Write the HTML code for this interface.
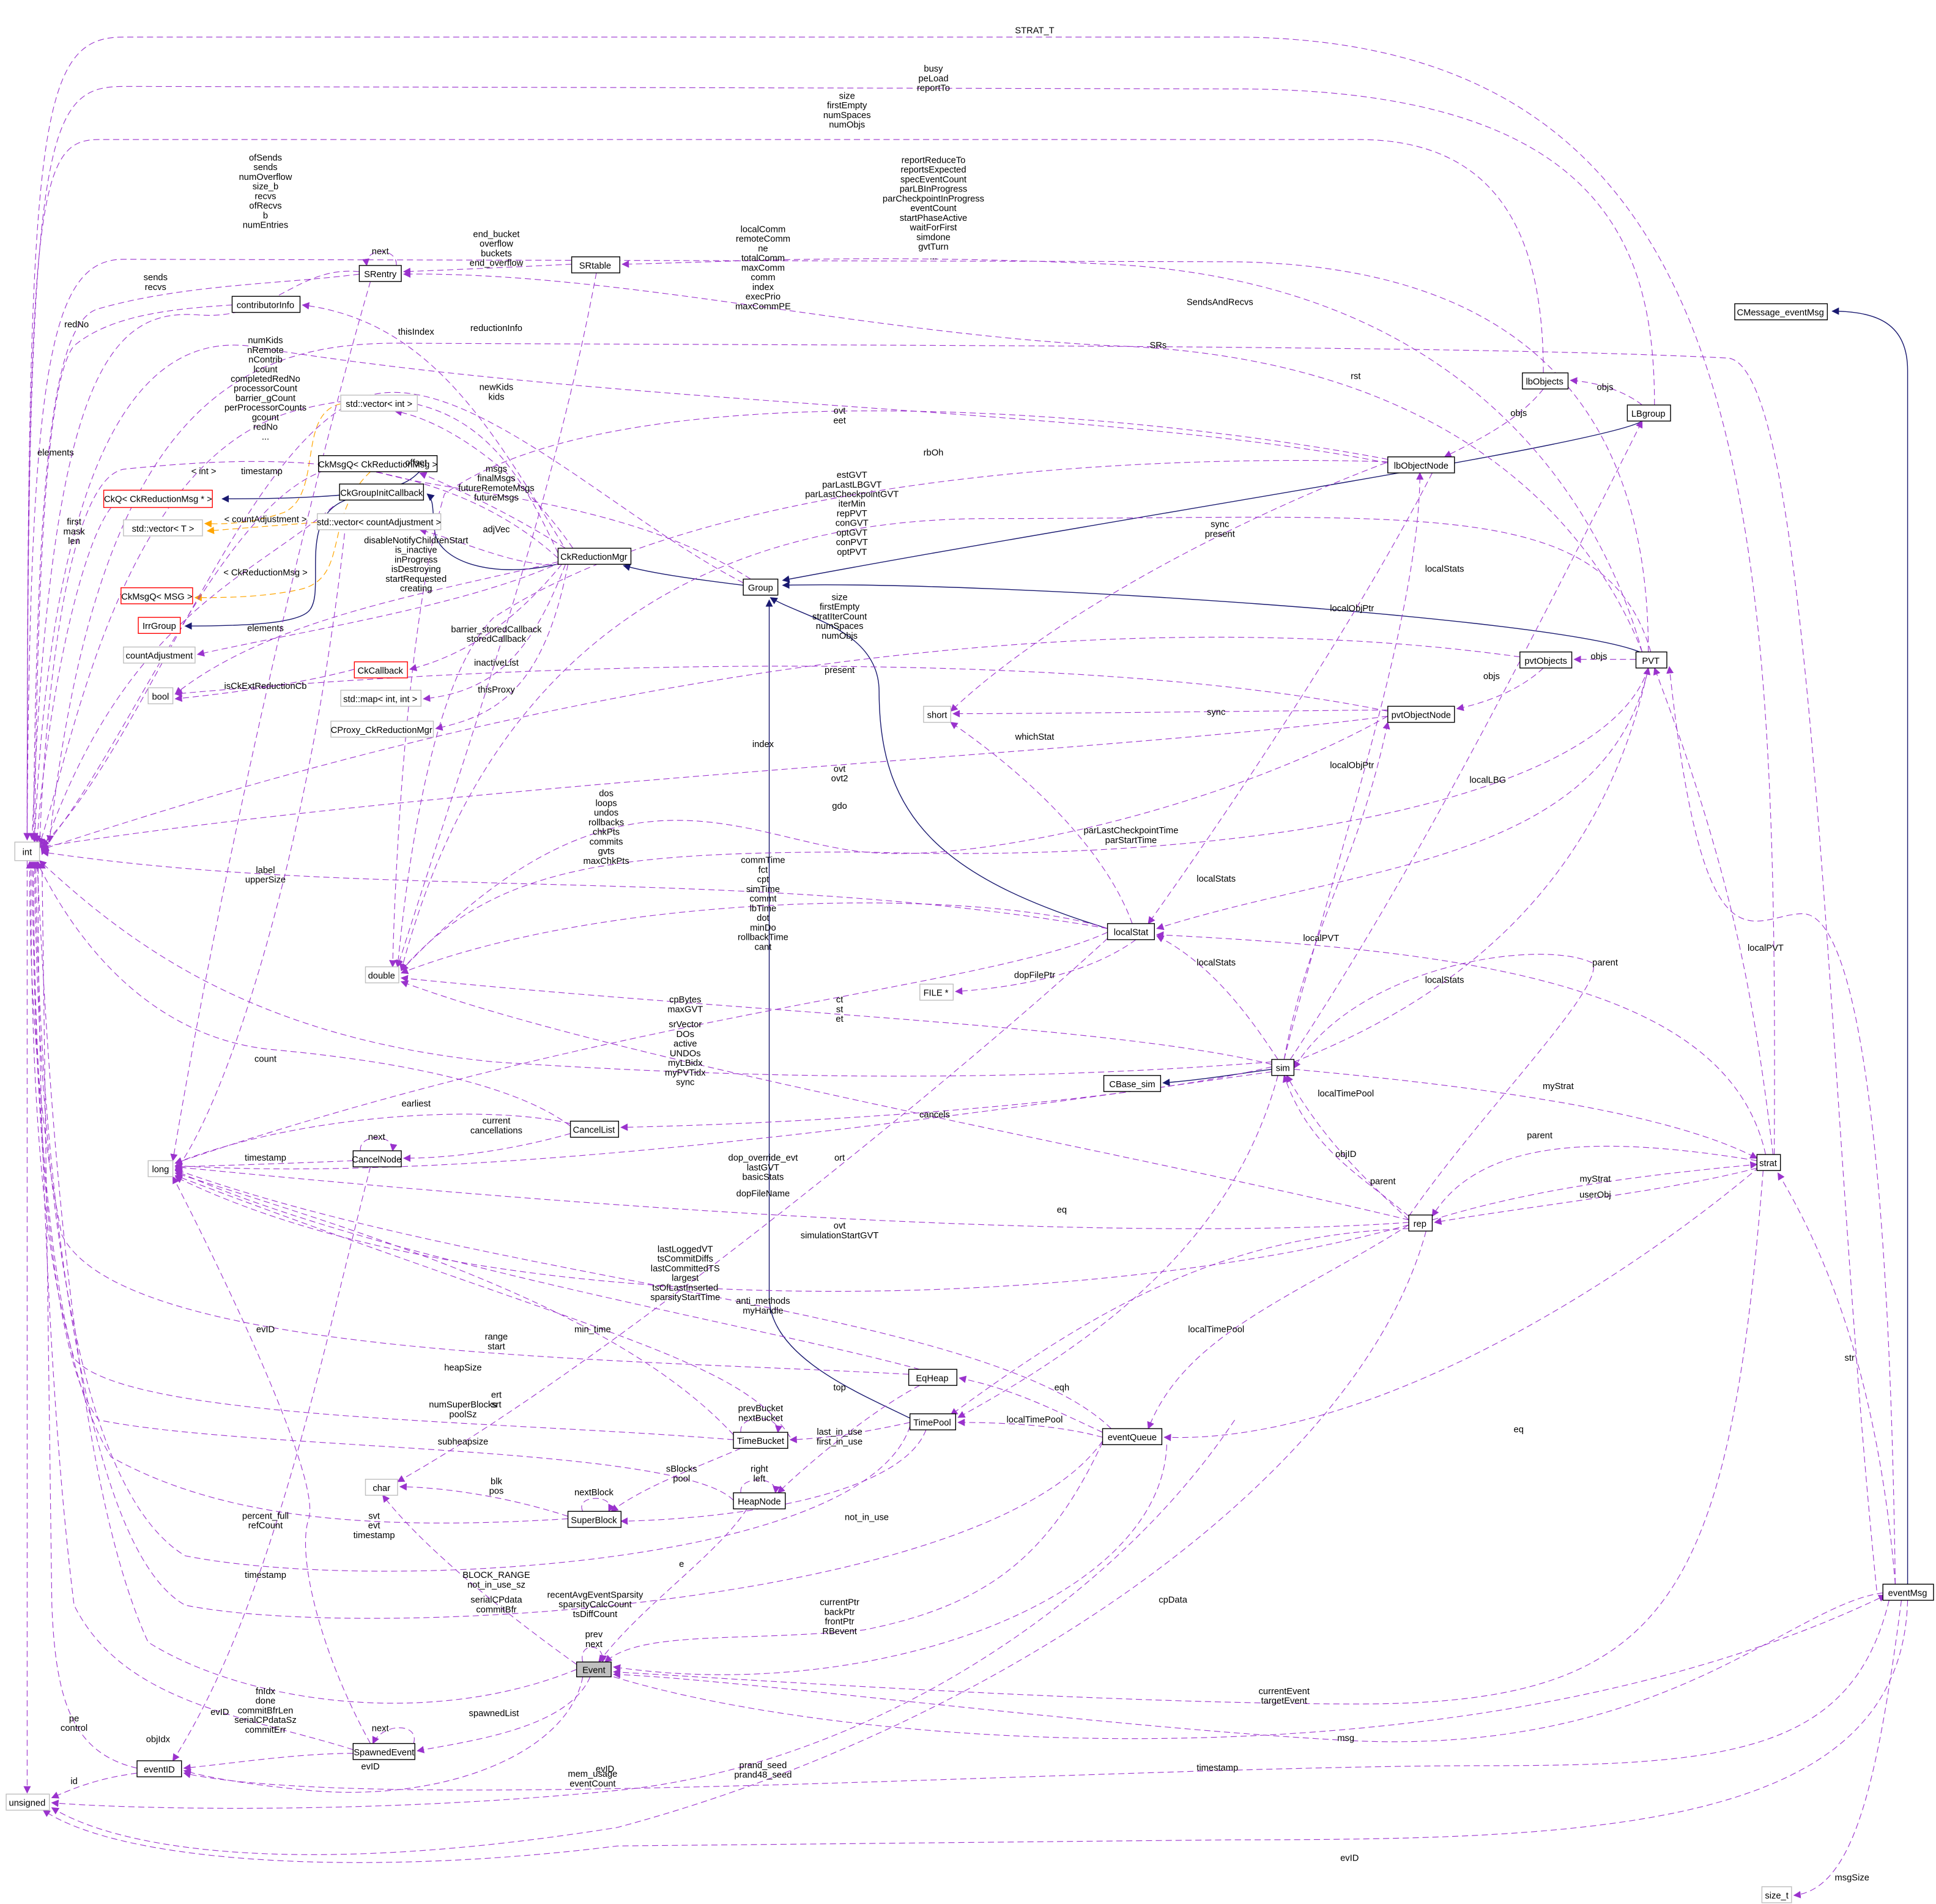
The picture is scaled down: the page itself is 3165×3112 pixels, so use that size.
<!DOCTYPE html>
<html><head><meta charset="utf-8"><style>
html,body{margin:0;padding:0;background:#fff;}
svg{display:block;}
text{font-family:"Liberation Sans",sans-serif;font-size:7.3px;fill:#000;}
.t{text-anchor:middle;}
.e{fill:none;stroke:#9a32cd;stroke-width:0.55;stroke-dasharray:5,3;marker-end:url(#mp);}
.n{fill:none;stroke:#191970;stroke-width:0.7;marker-end:url(#mn);}
.o{fill:none;stroke:#ffa500;stroke-width:0.6;stroke-dasharray:5,3;marker-end:url(#mo);}
.b{fill:#fff;stroke:#000;stroke-width:0.7;}
.g{fill:#fff;stroke:#bfbfbf;stroke-width:0.7;}
.r{fill:#fff;stroke:#ff0000;stroke-width:0.7;}
</style></head><body>
<svg width="3165" height="3112" viewBox="0 0 1568 1542" preserveAspectRatio="none" xmlns="http://www.w3.org/2000/svg">
<defs>
<marker id="mp" viewBox="0 0 10 10" refX="9" refY="5" markerWidth="6" markerHeight="6" markerUnits="userSpaceOnUse" orient="auto"><path d="M0,0 L10,5 L0,10z" fill="#9a32cd"/></marker>
<marker id="mn" viewBox="0 0 10 10" refX="9" refY="5" markerWidth="6" markerHeight="6" markerUnits="userSpaceOnUse" orient="auto"><path d="M0,0 L10,5 L0,10z" fill="#191970"/></marker>
<marker id="mo" viewBox="0 0 10 10" refX="9" refY="5" markerWidth="6" markerHeight="6" markerUnits="userSpaceOnUse" orient="auto"><path d="M0,0 L10,5 L0,10z" fill="#ffa500"/></marker>
</defs>

<!-- navy inheritance -->
<path class="n" d="M342,380 C330,390 330,404 180,404"/>
<path class="n" d="M280,405 C240,420 265,480 250,495 C240,505 200,507 150,507"/>
<path class="n" d="M455,456 C400,470 355,455 352,430 C350,415 352,405 346,400"/>
<path class="n" d="M602,474 C570,470 530,465 505,458"/>
<path class="n" d="M1330,341 C1300,360 900,420 634,470"/>
<path class="n" d="M1328,528 C1260,500 800,470 634,474"/>
<path class="n" d="M897,752 C760,710 712,660 712,560 C712,510 650,500 624,484"/>
<path class="n" d="M740,1150 C700,1130 623,1100 623,1050 L623,486"/>
<path class="n" d="M1030,866 C1000,870 970,875 942,877"/>
<path class="n" d="M1545,1283 L1545,300 C1545,262 1520,252 1484,252"/>

<!-- orange template -->
<path class="o" d="M276,327 C240,335 262,400 230,415 C210,422 190,425 166,424"/>
<path class="o" d="M257,423 L168,430"/>
<path class="o" d="M300,382 C260,420 285,470 240,478 C210,484 180,484 158,484"/>

<!-- purple edges to int -->
<path class="e" d="M1437,935 C1440,400 1420,32 1000,30 L100,30 C30,30 22,100 22,680"/>
<path class="e" d="M1340,328 C1340,200 1300,72 1000,72 L100,70 C35,70 22,110 22,680"/>
<path class="e" d="M1250,302 C1250,200 1220,113 1100,113 L80,113 C30,113 22,160 22,680"/>
<path class="e" d="M1335,528 C1335,300 1200,215 1000,212 L100,210 C40,210 24,300 22,680"/>
<path class="e" d="M291,220 C240,215 220,260 160,255 C90,250 40,300 26,680"/>
<path class="e" d="M291,222 C230,230 150,230 80,250 C40,260 30,400 27,680"/>
<path class="e" d="M188,247 C140,250 90,255 60,280 C35,310 30,500 28,680"/>
<path class="e" d="M452,448 C420,380 380,300 250,330 C100,360 60,600 32,684"/>
<path class="e" d="M452,452 C350,360 200,370 100,380 C50,390 35,600 32,687"/>
<path class="e" d="M90,411 C60,450 35,600 30,682"/>
<path class="e" d="M897,752 C600,700 300,730 34,690"/>
<path class="e" d="M602,472 C500,420 380,300 300,320 C200,350 120,600 34,685"/>
<path class="e" d="M462,912 C420,880 330,860 220,850 C120,840 60,760 30,698"/>
<path class="e" d="M736,1113 C500,1100 100,1100 50,1000 C30,900 24,800 24,698"/>
<path class="e" d="M594,1166 C400,1150 100,1150 60,1100 C30,1000 25,850 25,698"/>
<path class="e" d="M594,1215 C550,1170 200,1175 80,1150 C40,1100 28,900 26,698"/>
<path class="e" d="M460,1230 C300,1240 180,1230 90,1180 C40,1100 28,900 27,698"/>
<path class="e" d="M737,1155 C700,1270 300,1290 150,1260 C50,1200 30,900 28,698"/>
<path class="e" d="M893,1167 C800,1300 300,1330 150,1300 C60,1250 30,900 29,698"/>
<path class="e" d="M467,1352 C350,1400 200,1380 120,1330 C60,1200 40,900 30,698"/>
<path class="e" d="M286,1417 C200,1390 100,1380 60,1300 C35,1100 30,800 31,698"/>
<path class="e" d="M111,1432 C60,1420 45,1380 42,1300 L34,698"/>
<path class="e" d="M1030,860 C900,870 700,880 400,860 C200,840 100,760 32,697"/>
<path class="e" d="M1124,580 C900,610 400,630 32,686"/>
<path class="e" d="M1124,375 C900,330 500,330 200,280 C100,270 40,400 28,682"/>
<!-- to unsigned -->
<path class="e" d="M22,697 L22,1452"/>
<path class="e" d="M111,1436 C80,1440 60,1448 42,1456"/>
<path class="e" d="M1000,1150 C900,1300 700,1430 500,1450 C300,1470 100,1465 42,1460"/>
<path class="e" d="M1155,997 C1100,1200 800,1400 500,1480 C250,1520 100,1500 42,1464"/>
<path class="e" d="M1545,1296 C1540,1480 1300,1490 1000,1490 L500,1495 C300,1520 100,1510 35,1466"/>
<!-- eventMsg edges -->
<path class="e" d="M1530,1296 C1500,1420 1400,1430 1200,1430 C900,1430 300,1470 149,1436"/>
<path class="e" d="M1540,1296 C1520,1450 1500,1530 1453,1535"/>
<path class="e" d="M1525,1290 C1450,1300 1350,1420 1100,1410 C900,1400 600,1360 497,1356"/>
<path class="e" d="M1428,948 C1400,1300 1350,1380 1100,1380 C900,1380 600,1360 497,1354"/>
<path class="e" d="M497,1358 C700,1420 1200,1450 1527,1292"/>
<path class="e" d="M1535,1283 C1520,1100 1470,1000 1440,950"/>
<path class="e" d="M1535,1283 C1530,900 1500,740 1460,740 C1420,740 1380,800 1352,540"/>
<path class="e" d="M1520,1288 C1480,900 1470,300 1400,290 C1200,280 800,280 330,278 C200,276 80,320 40,682"/>
<!-- Event area -->
<path class="e" d="M893,1168 C850,1260 800,1300 700,1320 C600,1330 520,1320 490,1346"/>
<path class="e" d="M945,1170 C940,1300 700,1380 497,1350"/>
<path class="e" d="M472,1346 C468,1330 490,1330 488,1346"/>
<path class="e" d="M478,1358 C460,1400 380,1410 338,1418"/>
<path class="e" d="M335,1412 C340,1395 310,1395 302,1412"/>
<path class="e" d="M286,1420 C240,1420 190,1428 149,1432"/>
<path class="e" d="M472,1358 C460,1420 360,1460 250,1450 C200,1445 170,1440 149,1434"/>
<path class="e" d="M467,1348 C400,1300 340,1250 310,1211"/>
<path class="e" d="M300,1412 C260,1340 240,1260 250,1230 C260,1200 190,1050 140,953"/>
<path class="e" d="M460,1228 C420,1215 370,1205 324,1204"/>
<path class="e" d="M472,1224 C465,1210 500,1210 493,1224"/>
<path class="e" d="M600,1173 C560,1190 520,1205 495,1224"/>
<path class="e" d="M605,1222 C580,1260 520,1300 485,1346"/>
<path class="e" d="M600,1209 C598,1195 630,1195 628,1209"/>
<path class="e" d="M750,1158 C730,1210 600,1230 503,1232"/>
<path class="e" d="M737,1152 C700,1160 670,1165 640,1166"/>
<path class="e" d="M600,1160 C598,1145 632,1145 630,1160"/>
<path class="e" d="M745,1122 C710,1140 660,1180 630,1209"/>
<path class="e" d="M893,1160 C850,1140 820,1125 777,1116"/>
<path class="e" d="M893,1164 C860,1155 820,1152 776,1152"/>
<path class="e" d="M1035,871 C1000,1000 900,1080 776,1148"/>
<path class="e" d="M1425,945 C1300,1050 1100,1170 943,1164"/>
<path class="e" d="M1141,992 C1050,1050 960,1080 930,1157"/>
<path class="e" d="M745,1109 C600,1070 300,1020 142,948"/>
<path class="e" d="M594,1162 C500,1060 300,1000 142,950"/>
<path class="e" d="M640,1164 C600,1100 480,1080 142,952"/>
<path class="e" d="M1141,992 C900,1060 400,1080 142,953"/>
<path class="e" d="M900,1157 C800,1060 400,1040 142,947"/>
<path class="e" d="M1141,990 C1000,1000 700,1000 142,945"/>
<path class="e" d="M1141,988 C900,930 500,860 325,795"/>
<path class="e" d="M1030,868 C800,900 400,960 142,944"/>
<path class="e" d="M897,760 C800,850 500,1100 322,1200"/>
<path class="e" d="M1030,864 C900,895 650,910 503,913"/>
<path class="e" d="M462,918 C420,930 370,938 327,938"/>
<path class="e" d="M462,910 C400,895 250,900 142,942"/>
<path class="e" d="M292,932 C290,918 320,918 318,932"/>
<path class="e" d="M286,940 C240,942 180,944 142,945"/>
<path class="e" d="M300,945 C260,1100 220,1300 140,1426"/>
<path class="e" d="M897,755 C800,800 500,820 142,942"/>
<path class="e" d="M897,752 C800,720 500,720 325,788"/>
<path class="e" d="M1030,862 C900,830 600,820 325,792"/>
<path class="e" d="M920,761 C880,790 820,800 774,803"/>
<path class="e" d="M917,748 C900,700 850,640 770,585"/>
<path class="e" d="M1124,580 C1000,650 800,700 700,690 C600,680 500,600 325,786"/>
<path class="e" d="M1335,541 C1300,650 1000,700 700,690 C500,690 400,700 325,786"/>
<path class="e" d="M1335,541 C1300,700 1100,700 937,752"/>
<path class="e" d="M1035,858 C1010,820 980,780 937,758"/>
<path class="e" d="M1430,935 C1400,800 1200,770 937,757"/>
<path class="e" d="M1160,383 C1100,500 1000,650 930,748"/>
<path class="e" d="M1124,575 C1000,576 850,578 772,578"/>
<path class="e" d="M1130,372 C1000,420 850,500 770,576"/>
<path class="e" d="M1124,576 C900,530 500,530 142,562"/>
<path class="e" d="M1231,532 C1000,500 600,500 34,688"/>
<path class="e" d="M1250,541 C1230,560 1200,570 1180,574"/>
<path class="e" d="M1325,534 C1300,534 1290,534 1275,534"/>
<path class="e" d="M1330,328 C1320,320 1300,310 1272,308"/>
<path class="e" d="M1250,315 C1230,340 1200,355 1170,370"/>
<path class="e" d="M1337,528 C1300,400 1150,420 800,420 C600,420 400,500 325,786"/>
<path class="e" d="M1124,374 C1000,370 600,370 400,500 C350,550 330,700 322,783"/>
<path class="e" d="M1124,372 C900,330 500,300 360,400 C330,500 320,700 318,783"/>
<path class="e" d="M1040,858 C1060,750 1100,700 1124,585"/>
<path class="e" d="M1040,858 C1080,700 1150,500 1150,383"/>
<path class="e" d="M1045,858 C1150,700 1250,500 1330,341"/>
<path class="e" d="M1048,860 C1200,800 1300,700 1335,541"/>
<path class="e" d="M1436,935 C1420,800 1400,700 1340,541"/>
<path class="e" d="M1141,985 C1200,900 1300,800 1290,780 C1250,760 1100,780 1048,865"/>
<path class="e" d="M1423,940 C1300,920 1200,920 1160,985"/>
<path class="e" d="M1141,988 C1100,950 1070,920 1042,871"/>
<path class="e" d="M1048,866 C1200,880 1350,900 1423,938"/>
<path class="e" d="M1160,988 C1250,960 1350,950 1423,943"/>
<path class="e" d="M1423,946 C1350,965 1250,975 1162,990"/>
<path class="e" d="M1141,995 C1000,1000 900,1050 770,1146"/>
<path class="e" d="M1141,985 C1100,950 1060,930 1040,871"/>
<!-- top region -->
<path class="e" d="M1330,528 C1300,420 1200,230 900,214 C700,205 600,212 504,214"/>
<path class="e" d="M1330,528 C1300,450 1200,290 900,280 C700,270 500,220 327,222"/>
<path class="e" d="M463,214 C420,216 380,218 327,220"/>
<path class="e" d="M321,215 C322,200 295,200 297,215"/>
<path class="e" d="M460,448 C400,350 350,260 245,247"/>
<path class="e" d="M464,444 C420,380 360,340 320,333"/>
<path class="e" d="M458,444 C420,420 380,400 340,383"/>
<path class="e" d="M455,457 C420,460 380,440 340,429"/>
<path class="e" d="M452,455 C350,480 220,500 142,562"/>
<path class="e" d="M455,455 C380,490 250,510 160,530"/>
<path class="e" d="M455,457 C420,500 380,530 332,542"/>
<path class="e" d="M458,457 C430,530 400,560 343,566"/>
<path class="e" d="M460,457 C440,560 400,580 353,590"/>
<path class="e" d="M287,542 C250,552 200,560 142,566"/>
<path class="e" d="M483,221 C450,400 380,600 322,783"/>
<path class="e" d="M300,228 C250,400 180,700 140,940"/>
<path class="e" d="M608,469 C500,400 350,400 300,380 C200,350 110,600 34,688"/>
<path class="e" d="M270,410 C200,470 100,500 34,692"/>
<path class="e" d="M280,424 C250,700 180,900 142,948"/>

<!-- nodes -->
<rect class="b" x="1405" y="246" width="75" height="13"/><text class="t" x="1442" y="255.5">CMessage_eventMsg</text>
<rect class="b" x="463" y="208" width="39" height="13"/><text class="t" x="482" y="217.5">SRtable</text>
<rect class="b" x="291" y="215" width="34" height="13"/><text class="t" x="308" y="224.5">SRentry</text>
<rect class="b" x="188" y="240" width="55" height="13"/><text class="t" x="215" y="249.5">contributorInfo</text>
<rect class="b" x="1233" y="302" width="37" height="13"/><text class="t" x="1251" y="311.5">lbObjects</text>
<rect class="b" x="1318" y="328" width="35" height="13"/><text class="t" x="1335" y="337.5">LBgroup</text>
<rect class="g" x="276" y="320" width="62" height="13"/><text class="t" x="307" y="329.5">std::vector&lt; int &gt;</text>
<rect class="b" x="258" y="369" width="96" height="13"/><text class="t" x="306" y="378.5">CkMsgQ&lt; CkReductionMsg &gt;</text>
<rect class="b" x="1124" y="370" width="54" height="13"/><text class="t" x="1151" y="379.5">lbObjectNode</text>
<rect class="r" x="84" y="397" width="88" height="14"/><text class="t" x="128" y="406.5">CkQ&lt; CkReductionMsg * &gt;</text>
<rect class="b" x="275" y="392" width="68" height="13"/><text class="t" x="309" y="401.5">CkGroupInitCallback</text>
<rect class="g" x="100" y="421" width="64" height="13"/><text class="t" x="132" y="430.5">std::vector&lt; T &gt;</text>
<rect class="g" x="257" y="416" width="100" height="13"/><text class="t" x="307" y="425.5">std::vector&lt; countAdjustment &gt;</text>
<rect class="b" x="452" y="444" width="59" height="13"/><text class="t" x="481" y="453.5">CkReductionMgr</text>
<rect class="b" x="602" y="469" width="28" height="13"/><text class="t" x="616" y="478.5">Group</text>
<rect class="r" x="98" y="476" width="58" height="13"/><text class="t" x="127" y="485.5">CkMsgQ&lt; MSG &gt;</text>
<rect class="r" x="112" y="500" width="34" height="13"/><text class="t" x="129" y="509.5">IrrGroup</text>
<rect class="g" x="100" y="524" width="58" height="13"/><text class="t" x="129" y="533.5">countAdjustment</text>
<rect class="r" x="287" y="536" width="43" height="13"/><text class="t" x="308" y="545.5">CkCallback</text>
<rect class="b" x="1231" y="528" width="42" height="13"/><text class="t" x="1252" y="537.5">pvtObjects</text>
<rect class="b" x="1325" y="528" width="25" height="13"/><text class="t" x="1337" y="537.5">PVT</text>
<rect class="g" x="120" y="557" width="20" height="13"/><text class="t" x="130" y="566.5">bool</text>
<rect class="g" x="276" y="559" width="65" height="13"/><text class="t" x="308" y="568.5">std::map&lt; int, int &gt;</text>
<rect class="g" x="748" y="572" width="22" height="13"/><text class="t" x="759" y="581.5">short</text>
<rect class="b" x="1124" y="572" width="54" height="13"/><text class="t" x="1151" y="581.5">pvtObjectNode</text>
<rect class="g" x="268" y="584" width="83" height="13"/><text class="t" x="309" y="593.5">CProxy_CkReductionMgr</text>
<rect class="g" x="12" y="682" width="20" height="15"/><text class="t" x="22" y="692.5">int</text>
<rect class="b" x="897" y="748" width="38" height="13"/><text class="t" x="916" y="757.5">localStat</text>
<rect class="g" x="296" y="783" width="27" height="13"/><text class="t" x="309" y="792.5">double</text>
<rect class="g" x="745" y="797" width="27" height="13"/><text class="t" x="758" y="806.5">FILE *</text>
<rect class="b" x="1030" y="858" width="18" height="13"/><text class="t" x="1039" y="867.5">sim</text>
<rect class="b" x="894" y="871" width="46" height="13"/><text class="t" x="917" y="880.5">CBase_sim</text>
<rect class="b" x="462" y="908" width="39" height="13"/><text class="t" x="481" y="917.5">CancelList</text>
<rect class="b" x="286" y="932" width="39" height="13"/><text class="t" x="305" y="941.5">CancelNode</text>
<rect class="g" x="120" y="940" width="20" height="13"/><text class="t" x="130" y="949.5">long</text>
<rect class="b" x="1423" y="935" width="19" height="13"/><text class="t" x="1432" y="944.5">strat</text>
<rect class="b" x="1141" y="984" width="19" height="13"/><text class="t" x="1150" y="993.5">rep</text>
<rect class="b" x="736" y="1109" width="39" height="13"/><text class="t" x="755" y="1118.5">EqHeap</text>
<rect class="b" x="737" y="1145" width="37" height="13"/><text class="t" x="755" y="1154.5">TimePool</text>
<rect class="b" x="594" y="1160" width="44" height="13"/><text class="t" x="616" y="1169.5">TimeBucket</text>
<rect class="b" x="893" y="1157" width="48" height="13"/><text class="t" x="917" y="1166.5">eventQueue</text>
<rect class="g" x="296" y="1198" width="26" height="13"/><text class="t" x="309" y="1207.5">char</text>
<rect class="b" x="594" y="1209" width="42" height="13"/><text class="t" x="615" y="1218.5">HeapNode</text>
<rect class="b" x="460" y="1224" width="43" height="13"/><text class="t" x="481" y="1233.5">SuperBlock</text>
<rect class="b" x="1525" y="1283" width="41" height="13"/><text class="t" x="1545" y="1292.5">eventMsg</text>
<rect x="467" y="1346" width="28" height="12" fill="#bfbfbf" stroke="#000" stroke-width="0.7"/><text class="t" x="481" y="1355">Event</text>
<rect class="b" x="286" y="1412" width="50" height="13"/><text class="t" x="311" y="1421.5">SpawnedEvent</text>
<rect class="b" x="111" y="1426" width="36" height="13"/><text class="t" x="129" y="1435.5">eventID</text>
<rect class="g" x="5" y="1453" width="35" height="13"/><text class="t" x="22" y="1462.5">unsigned</text>
<rect class="g" x="1427" y="1528" width="24" height="13"/><text class="t" x="1439" y="1537.5">size_t</text>

<!-- labels -->
<g class="t" text-anchor="middle">
<text x="838" y="27">STRAT_T</text>
<text x="756" y="58">busy<tspan x="756" dy="7.8">peLoad</tspan><tspan x="756" dy="7.8">reportTo</tspan></text>
<text x="686" y="80">size<tspan x="686" dy="7.8">firstEmpty</tspan><tspan x="686" dy="7.8">numSpaces</tspan><tspan x="686" dy="7.8">numObjs</tspan></text>
<text x="756" y="132">reportReduceTo<tspan x="756" dy="7.8">reportsExpected</tspan><tspan x="756" dy="7.8">specEventCount</tspan><tspan x="756" dy="7.8">parLBInProgress</tspan><tspan x="756" dy="7.8">parCheckpointInProgress</tspan><tspan x="756" dy="7.8">eventCount</tspan><tspan x="756" dy="7.8">startPhaseActive</tspan><tspan x="756" dy="7.8">waitForFirst</tspan><tspan x="756" dy="7.8">simdone</tspan><tspan x="756" dy="7.8">gvtTurn</tspan><tspan x="756" dy="7.8">...</tspan></text>
<text x="215" y="130">ofSends<tspan x="215" dy="7.8">sends</tspan><tspan x="215" dy="7.8">numOverflow</tspan><tspan x="215" dy="7.8">size_b</tspan><tspan x="215" dy="7.8">recvs</tspan><tspan x="215" dy="7.8">ofRecvs</tspan><tspan x="215" dy="7.8">b</tspan><tspan x="215" dy="7.8">numEntries</tspan></text>
<text x="618" y="188">localComm<tspan x="618" dy="7.8">remoteComm</tspan><tspan x="618" dy="7.8">ne</tspan><tspan x="618" dy="7.8">totalComm</tspan><tspan x="618" dy="7.8">maxComm</tspan><tspan x="618" dy="7.8">comm</tspan><tspan x="618" dy="7.8">index</tspan><tspan x="618" dy="7.8">execPrio</tspan><tspan x="618" dy="7.8">maxCommPE</tspan></text>
<text x="402" y="192">end_bucket<tspan x="402" dy="7.8">overflow</tspan><tspan x="402" dy="7.8">buckets</tspan><tspan x="402" dy="7.8">end_overflow</tspan></text>
<text x="308" y="206">next</text>
<text x="988" y="247">SendsAndRecvs</text>
<text x="938" y="282">SRs</text>
<text x="1098" y="307">rst</text>
<text x="126" y="227">sends<tspan x="126" dy="7.8">recvs</tspan></text>
<text x="62" y="265">redNo</text>
<text x="402" y="268">reductionInfo</text>
<text x="337" y="271">thisIndex</text>
<text x="215" y="278">numKids<tspan x="215" dy="7.8">nRemote</tspan><tspan x="215" dy="7.8">nContrib</tspan><tspan x="215" dy="7.8">lcount</tspan><tspan x="215" dy="7.8">completedRedNo</tspan><tspan x="215" dy="7.8">processorCount</tspan><tspan x="215" dy="7.8">barrier_gCount</tspan><tspan x="215" dy="7.8">perProcessorCounts</tspan><tspan x="215" dy="7.8">gcount</tspan><tspan x="215" dy="7.8">redNo</tspan><tspan x="215" dy="7.8">...</tspan></text>
<text x="1300" y="316">objs</text>
<text x="1230" y="337">objs</text>
<text x="402" y="316">newKids<tspan x="402" dy="7.8">kids</tspan></text>
<text x="680" y="335">ovt<tspan x="680" dy="7.8">eet</tspan></text>
<text x="45" y="369">elements</text>
<text x="756" y="369">rbOh</text>
<text x="165" y="384">&lt; int &gt;</text>
<text x="402" y="382">msgs<tspan x="402" dy="7.8">finalMsgs</tspan><tspan x="402" dy="7.8">futureRemoteMsgs</tspan><tspan x="402" dy="7.8">futureMsgs</tspan></text>
<text x="690" y="387">estGVT<tspan x="690" dy="7.8">parLastLBGVT</tspan><tspan x="690" dy="7.8">parLastCheckpointGVT</tspan><tspan x="690" dy="7.8">iterMin</tspan><tspan x="690" dy="7.8">repPVT</tspan><tspan x="690" dy="7.8">conGVT</tspan><tspan x="690" dy="7.8">optGVT</tspan><tspan x="690" dy="7.8">conPVT</tspan><tspan x="690" dy="7.8">optPVT</tspan></text>
<text x="212" y="384">timestamp</text>
<text x="337" y="377">offset</text>
<text x="215" y="423">&lt; countAdjustment &gt;</text>
<text x="60" y="425">first<tspan x="60" dy="7.8">mask</tspan><tspan x="60" dy="7.8">len</tspan></text>
<text x="988" y="427">sync<tspan x="988" dy="7.8">present</tspan></text>
<text x="402" y="431">adjVec</text>
<text x="337" y="440">disableNotifyChildrenStart<tspan x="337" dy="7.8">is_inactive</tspan><tspan x="337" dy="7.8">inProgress</tspan><tspan x="337" dy="7.8">isDestroying</tspan><tspan x="337" dy="7.8">startRequested</tspan><tspan x="337" dy="7.8">creating</tspan></text>
<text x="1170" y="463">localStats</text>
<text x="215" y="466">&lt; CkReductionMsg &gt;</text>
<text x="680" y="486">size<tspan x="680" dy="7.8">firstEmpty</tspan><tspan x="680" dy="7.8">stratIterCount</tspan><tspan x="680" dy="7.8">numSpaces</tspan><tspan x="680" dy="7.8">numObjs</tspan></text>
<text x="1095" y="495">localObjPtr</text>
<text x="215" y="511">elements</text>
<text x="402" y="512">barrier_storedCallback<tspan x="402" dy="7.8">storedCallback</tspan></text>
<text x="1295" y="534">objs</text>
<text x="402" y="539">inactiveList</text>
<text x="680" y="545">present</text>
<text x="1208" y="550">objs</text>
<text x="215" y="558">isCkExtReductionCb</text>
<text x="402" y="561">thisProxy</text>
<text x="985" y="579">sync</text>
<text x="838" y="599">whichStat</text>
<text x="618" y="605">index</text>
<text x="680" y="625">ovt<tspan x="680" dy="7.8">ovt2</tspan></text>
<text x="1095" y="622">localObjPtr</text>
<text x="1205" y="634">localLBG</text>
<text x="491" y="645">dos<tspan x="491" dy="7.8">loops</tspan><tspan x="491" dy="7.8">undos</tspan><tspan x="491" dy="7.8">rollbacks</tspan><tspan x="491" dy="7.8">chkPts</tspan><tspan x="491" dy="7.8">commits</tspan><tspan x="491" dy="7.8">gvts</tspan><tspan x="491" dy="7.8">maxChkPts</tspan></text>
<text x="680" y="655">gdo</text>
<text x="916" y="675">parLastCheckpointTime<tspan x="916" dy="7.8">parStartTime</tspan></text>
<text x="618" y="699">commTime<tspan x="618" dy="7.8">fct</tspan><tspan x="618" dy="7.8">cpt</tspan><tspan x="618" dy="7.8">simTime</tspan><tspan x="618" dy="7.8">commt</tspan><tspan x="618" dy="7.8">lbTime</tspan><tspan x="618" dy="7.8">dot</tspan><tspan x="618" dy="7.8">minDo</tspan><tspan x="618" dy="7.8">rollbackTime</tspan><tspan x="618" dy="7.8">cant</tspan></text>
<text x="215" y="707">label<tspan x="215" dy="7.8">upperSize</tspan></text>
<text x="985" y="714">localStats</text>
<text x="1070" y="762">localPVT</text>
<text x="1430" y="770">localPVT</text>
<text x="1300" y="782">parent</text>
<text x="985" y="782">localStats</text>
<text x="838" y="792">dopFilePtr</text>
<text x="1170" y="796">localStats</text>
<text x="555" y="812">cpBytes<tspan x="555" dy="7.8">maxGVT</tspan></text>
<text x="680" y="812">ct<tspan x="680" dy="7.8">st</tspan><tspan x="680" dy="7.8">et</tspan></text>
<text x="555" y="832">srVector<tspan x="555" dy="7.8">DOs</tspan><tspan x="555" dy="7.8">active</tspan><tspan x="555" dy="7.8">UNDOs</tspan><tspan x="555" dy="7.8">myLBidx</tspan><tspan x="555" dy="7.8">myPVTidx</tspan><tspan x="555" dy="7.8">sync</tspan></text>
<text x="215" y="860">count</text>
<text x="1262" y="882">myStrat</text>
<text x="1090" y="888">localTimePool</text>
<text x="337" y="896">earliest</text>
<text x="757" y="905">cancels</text>
<text x="402" y="910">current<tspan x="402" dy="7.8">cancellations</tspan></text>
<text x="305" y="923">next</text>
<text x="1247" y="922">parent</text>
<text x="1090" y="937">objID</text>
<text x="215" y="940">timestamp</text>
<text x="680" y="940">ort</text>
<text x="618" y="940">dop_override_evt<tspan x="618" dy="7.8">lastGVT</tspan><tspan x="618" dy="7.8">basicStats</tspan></text>
<text x="1292" y="957">myStrat</text>
<text x="1120" y="959">parent</text>
<text x="618" y="969">dopFileName</text>
<text x="1292" y="970">userObj</text>
<text x="860" y="982">eq</text>
<text x="680" y="995">ovt<tspan x="680" dy="7.8">simulationStartGVT</tspan></text>
<text x="555" y="1014">lastLoggedVT<tspan x="555" dy="7.8">tsCommitDiffs</tspan><tspan x="555" dy="7.8">lastCommittedTS</tspan><tspan x="555" dy="7.8">largest</tspan><tspan x="555" dy="7.8">tsOfLastInserted</tspan><tspan x="555" dy="7.8">sparsityStartTime</tspan></text>
<text x="618" y="1056">anti_methods<tspan x="618" dy="7.8">myHandle</tspan></text>
<text x="215" y="1079">evID</text>
<text x="480" y="1079">min_time</text>
<text x="985" y="1079">localTimePool</text>
<text x="402" y="1085">range<tspan x="402" dy="7.8">start</tspan></text>
<text x="1498" y="1102">str</text>
<text x="375" y="1110">heapSize</text>
<text x="680" y="1126">top</text>
<text x="860" y="1126">eqh</text>
<text x="402" y="1132">ert<tspan x="402" dy="7.8">srt</tspan></text>
<text x="375" y="1140">numSuperBlocks<tspan x="375" dy="7.8">poolSz</tspan></text>
<text x="616" y="1143">prevBucket<tspan x="616" dy="7.8">nextBucket</tspan></text>
<text x="838" y="1152">localTimePool</text>
<text x="1230" y="1160">eq</text>
<text x="680" y="1162">last_in_use<tspan x="680" dy="7.8">first_in_use</tspan></text>
<text x="375" y="1170">subheapsize</text>
<text x="615" y="1192">right<tspan x="615" dy="7.8">left</tspan></text>
<text x="552" y="1192">sBlocks<tspan x="552" dy="7.8">pool</tspan></text>
<text x="402" y="1202">blk<tspan x="402" dy="7.8">pos</tspan></text>
<text x="481" y="1211">nextBlock</text>
<text x="215" y="1230">percent_full<tspan x="215" dy="7.8">refCount</tspan></text>
<text x="303" y="1230">svt<tspan x="303" dy="7.8">evt</tspan><tspan x="303" dy="7.8">timestamp</tspan></text>
<text x="702" y="1231">not_in_use</text>
<text x="552" y="1269">e</text>
<text x="215" y="1278">timestamp</text>
<text x="402" y="1278">BLOCK_RANGE<tspan x="402" dy="7.8">not_in_use_sz</tspan></text>
<text x="482" y="1294">recentAvgEventSparsity<tspan x="482" dy="7.8">sparsityCalcCount</tspan><tspan x="482" dy="7.8">tsDiffCount</tspan></text>
<text x="402" y="1298">serialCPdata<tspan x="402" dy="7.8">commitBfr</tspan></text>
<text x="950" y="1298">cpData</text>
<text x="680" y="1300">currentPtr<tspan x="680" dy="7.8">backPtr</tspan><tspan x="680" dy="7.8">frontPtr</tspan><tspan x="680" dy="7.8">RBevent</tspan></text>
<text x="481" y="1326">prev<tspan x="481" dy="7.8">next</tspan></text>
<text x="215" y="1372">fnIdx<tspan x="215" dy="7.8">done</tspan><tspan x="215" dy="7.8">commitBfrLen</tspan><tspan x="215" dy="7.8">serialCPdataSz</tspan><tspan x="215" dy="7.8">commitErr</tspan></text>
<text x="1040" y="1372">currentEvent<tspan x="1040" dy="7.8">targetEvent</tspan></text>
<text x="178" y="1389">evID</text>
<text x="400" y="1390">spawnedList</text>
<text x="60" y="1394">pe<tspan x="60" dy="7.8">control</tspan></text>
<text x="308" y="1402">next</text>
<text x="1090" y="1410">msg</text>
<text x="128" y="1411">objIdx</text>
<text x="618" y="1432">prand_seed<tspan x="618" dy="7.8">prand48_seed</tspan></text>
<text x="300" y="1433">evID</text>
<text x="490" y="1435">evID</text>
<text x="986" y="1434">timestamp</text>
<text x="480" y="1439">mem_usage<tspan x="480" dy="7.8">eventCount</tspan></text>
<text x="60" y="1445">id</text>
<text x="1093" y="1507">evID</text>
<text x="1500" y="1523">msgSize</text>
</g>
</svg>
</body></html>
